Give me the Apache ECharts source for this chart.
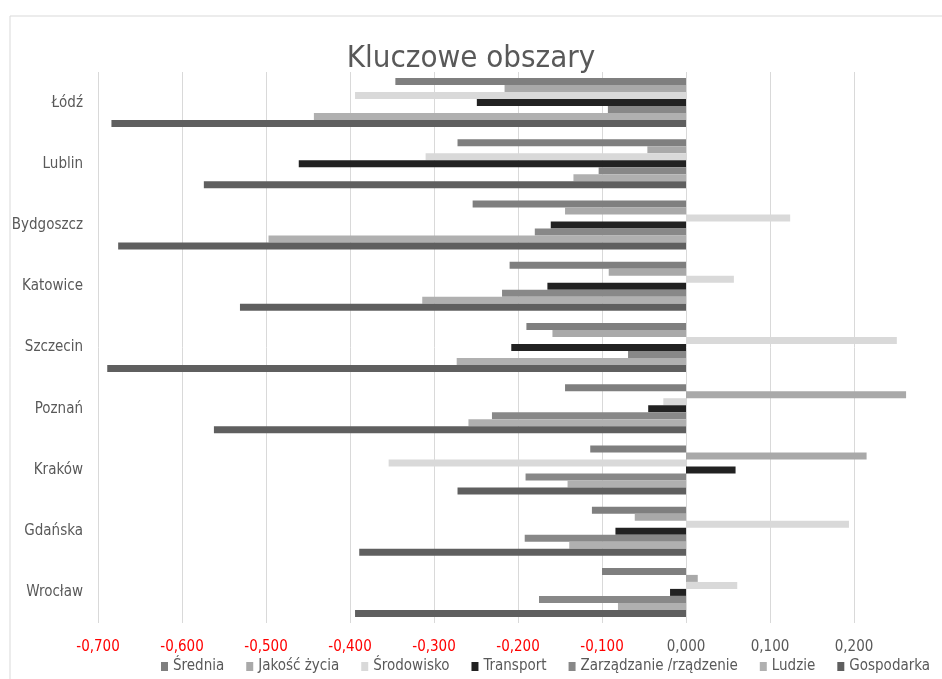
<!DOCTYPE html>
<html>
<head>
	<meta charset="UTF-8">
	<title>Kluczowe obszary</title>
	<script src="https://cdn.jsdelivr.net/npm/echarts@6/dist/echarts.min.js"></script>
	<style>
		html, body { margin: 0; padding: 0; background: #fff; }
		#main { width: 942px; height: 679px; }
	</style>
</head>
<body>
<div id="main"></div>

<script>
	// miasta, od gory do dolu
	var cities = ['Łódź', 'Lublin', 'Bydgoszcz', 'Katowice', 'Szczecin', 'Poznań', 'Kraków', 'Gdańska', 'Wrocław'];
	var seriesNames = ['Średnia', 'Jakość życia', 'Środowisko', 'Transport', 'Zarządzanie /rządzenie', 'Ludzie', 'Gospodarka'];
	var seriesColors = ['#7f7f7f', '#a9a9a9', '#d9d9d9', '#222222', '#888888', '#b0b0b0', '#5f5f5f'];

	var srednia      = [-0.346, -0.272, -0.254, -0.210, -0.190, -0.144, -0.114, -0.112, -0.100];
	var jakoscZycia  = [-0.216, -0.046, -0.144, -0.092, -0.159,  0.262,  0.215, -0.061,  0.014];
	var srodowisko   = [-0.394, -0.310,  0.124,  0.057,  0.251, -0.027, -0.354,  0.194,  0.061];
	var transport    = [-0.249, -0.461, -0.161, -0.165, -0.208, -0.045,  0.059, -0.084, -0.019];
	var zarzadzanie  = [-0.093, -0.104, -0.180, -0.219, -0.069, -0.231, -0.191, -0.192, -0.175];
	var ludzie       = [-0.443, -0.134, -0.497, -0.314, -0.273, -0.259, -0.141, -0.139, -0.081];
	var gospodarka   = [-0.684, -0.574, -0.676, -0.531, -0.689, -0.562, -0.272, -0.389, -0.394];

	var allValues = [srednia, jakoscZycia, srodowisko, transport, zarzadzanie, ludzie, gospodarka];

	var font = "'DejaVu Sans Condensed', 'DejaVu Sans', sans-serif";

	var series = [];
	for (var i = 0; i < seriesNames.length; i++) {
		series.push({
			name: seriesNames[i],
			type: 'bar',
			data: allValues[i],
			barGap: '0%',
			barCategoryGap: '20%',
			itemStyle: { color: seriesColors[i] }
		});
	}

	var myChart = echarts.init(document.getElementById('main'));

	var option = {
		backgroundColor: '#fff',
		animation: false,
		textStyle: { fontFamily: font },
		title: {
			text: 'Kluczowe obszary',
			left: 'center',
			top: 38,
			textStyle: { fontSize: 31, fontWeight: 'normal', color: '#595959', fontFamily: font }
		},
		graphic: [{
			// prawa krawedz wykresu jest ucieta na obrazku
			type: 'rect',
			z: 100,
			shape: { x: 935, y: 17, width: 10, height: 615 },
			style: { fill: '#fff' }
		}, {
			type: 'polyline',
			z: 101,
			shape: { points: [[10, 679], [10, 16], [942, 16]] },
			style: { stroke: '#d9d9d9', fill: null, lineWidth: 1 }
		}],
		legend: {
			data: seriesNames,
			left: 156,
			bottom: 0,
			width: 1200,
			itemWidth: 7,
			itemHeight: 9,
			itemGap: 22,
			icon: 'rect',
			textStyle: { fontSize: 15, color: '#595959', fontFamily: font }
		},
		grid: {
			left: 98,
			top: 72,
			width: 840,
			bottom: 56,
			containLabel: false
		},
		xAxis: {
			type: 'value',
			min: -0.7,
			max: 0.3,
			interval: 0.1,
			axisLine: { show: false },
			axisTick: { show: false },
			splitLine: { lineStyle: { color: '#d9d9d9' } },
			axisLabel: {
				showMaxLabel: false,
				margin: 17,
				fontSize: 15,
				fontFamily: font,
				color: function (v) { return v < 0 ? '#ff0000' : '#595959'; },
				formatter: function (v) { return v.toFixed(3).replace('.', ','); }
			}
		},
		yAxis: {
			type: 'category',
			data: cities,
			inverse: true,
			axisLine: { show: false },
			axisTick: { show: false },
			axisLabel: { fontSize: 15, color: '#595959', margin: 15, fontFamily: font }
		},
		series: series
	};

	myChart.setOption(option);
</script>
</body>
</html>
